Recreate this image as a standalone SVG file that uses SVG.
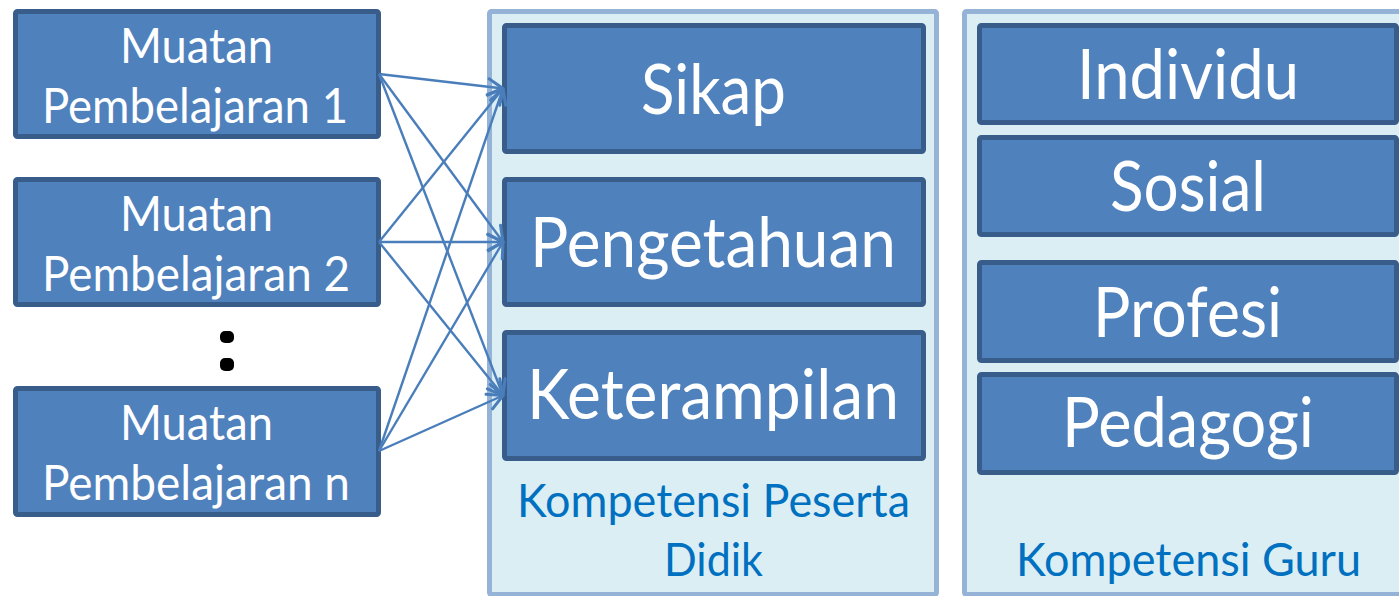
<svg xmlns="http://www.w3.org/2000/svg" width="1399" height="596" viewBox="0 0 1399 596">
<defs>
<style>
.box{fill:#4F81BD;stroke:#385D8A;stroke-width:5}
.cont{fill:#DBEEF4;stroke:#95B3D7;stroke-width:5}
.t{font-family:Lato,"Open Sans","Liberation Sans",sans-serif;fill:#FFFFFF}
.tl{font-size:48px}
.tb{font-size:70px}
.cap{font-family:Lato,"Open Sans","Liberation Sans",sans-serif;fill:#0070C0;font-size:47px}
.conn line{stroke:#4A7EBB;stroke-width:2.4;fill:none}
</style>
<marker id="arr" markerUnits="userSpaceOnUse" markerWidth="22" markerHeight="22" viewBox="0 0 22 22" refX="19" refY="11" orient="auto">
<path d="M4,3 L19,11 L4,19" fill="none" stroke="#4A7EBB" stroke-width="3" stroke-linecap="round" stroke-linejoin="round"/>
</marker>
</defs>
<rect width="1399" height="596" fill="#FFFFFF"/>

<g id="kompetensi-peserta-didik">
<rect class="cont" x="489.5" y="11.5" width="447" height="583" rx="2"/>
<text class="cap" x="517" y="517" textLength="393" lengthAdjust="spacingAndGlyphs">Kompetensi Peserta</text>
<text class="cap" x="664" y="576" textLength="99" lengthAdjust="spacingAndGlyphs">Didik</text>
</g>

<g id="kompetensi-guru">
<rect class="cont" x="964.5" y="11.5" width="500" height="583" rx="2"/>
<text class="cap" x="1016" y="576" textLength="345" lengthAdjust="spacingAndGlyphs">Kompetensi Guru</text>
</g>

<g id="muatan-1">
<rect class="box" x="15.5" y="11.5" width="363" height="125" rx="2"/>
<text class="t tl" x="120" y="63" textLength="153" lengthAdjust="spacingAndGlyphs">Muatan</text>
<text class="t tl" x="42" y="123" textLength="306" lengthAdjust="spacingAndGlyphs">Pembelajaran 1</text>
</g>
<g id="muatan-2">
<rect class="box" x="15.5" y="179.5" width="363" height="125" rx="2"/>
<text class="t tl" x="120" y="231" textLength="153" lengthAdjust="spacingAndGlyphs">Muatan</text>
<text class="t tl" x="42" y="291" textLength="308" lengthAdjust="spacingAndGlyphs">Pembelajaran 2</text>
</g>
<g id="ellipsis">
<rect x="220" y="331" width="14" height="12" rx="5" fill="#000000"/>
<rect x="220" y="358" width="14" height="13" rx="5" fill="#000000"/>
</g>
<g id="muatan-n">
<rect class="box" x="15.5" y="388.5" width="363" height="126" rx="2"/>
<text class="t tl" x="120" y="440" textLength="153" lengthAdjust="spacingAndGlyphs">Muatan</text>
<text class="t tl" x="42" y="500" textLength="308" lengthAdjust="spacingAndGlyphs">Pembelajaran n</text>
</g>

<g id="sikap">
<rect class="box" x="504.5" y="25.5" width="419" height="126" rx="2"/>
<text class="t tb" x="641" y="114" textLength="145" lengthAdjust="spacingAndGlyphs">Sikap</text>
</g>
<g id="pengetahuan">
<rect class="box" x="504.5" y="179.5" width="419" height="125" rx="2"/>
<text class="t tb" x="530" y="267" textLength="366" lengthAdjust="spacingAndGlyphs">Pengetahuan</text>
</g>
<g id="keterampilan">
<rect class="box" x="504.5" y="332.5" width="419" height="126" rx="2"/>
<text class="t tb" x="527" y="419" textLength="372" lengthAdjust="spacingAndGlyphs">Keterampilan</text>
</g>

<g id="individu">
<rect class="box" x="979.5" y="25.5" width="417" height="97" rx="2"/>
<text class="t tb" x="1077" y="99" textLength="222" lengthAdjust="spacingAndGlyphs">Individu</text>
</g>
<g id="sosial">
<rect class="box" x="979.5" y="137.5" width="417" height="97" rx="2"/>
<text class="t tb" x="1110" y="211" textLength="156" lengthAdjust="spacingAndGlyphs">Sosial</text>
</g>
<g id="profesi">
<rect class="box" x="979.5" y="262.5" width="417" height="98" rx="2"/>
<text class="t tb" x="1093" y="337" textLength="189" lengthAdjust="spacingAndGlyphs">Profesi</text>
</g>
<g id="pedagogi">
<rect class="box" x="979.5" y="374.5" width="417" height="98" rx="2"/>
<text class="t tb" x="1062" y="447" textLength="252" lengthAdjust="spacingAndGlyphs">Pedagogi</text>
</g>

<g id="connectors" class="conn">
<line x1="379" y1="74" x2="503" y2="88.5" marker-end="url(#arr)"/>
<line x1="379" y1="74" x2="503" y2="242" marker-end="url(#arr)"/>
<line x1="379" y1="74" x2="503" y2="395.5" marker-end="url(#arr)"/>
<line x1="379" y1="242" x2="503" y2="88.5" marker-end="url(#arr)"/>
<line x1="379" y1="242" x2="503" y2="242" marker-end="url(#arr)"/>
<line x1="379" y1="242" x2="503" y2="395.5" marker-end="url(#arr)"/>
<line x1="379" y1="451" x2="503" y2="88.5" marker-end="url(#arr)"/>
<line x1="379" y1="451" x2="503" y2="242" marker-end="url(#arr)"/>
<line x1="379" y1="451" x2="503" y2="395.5" marker-end="url(#arr)"/>
</g>
</svg>
